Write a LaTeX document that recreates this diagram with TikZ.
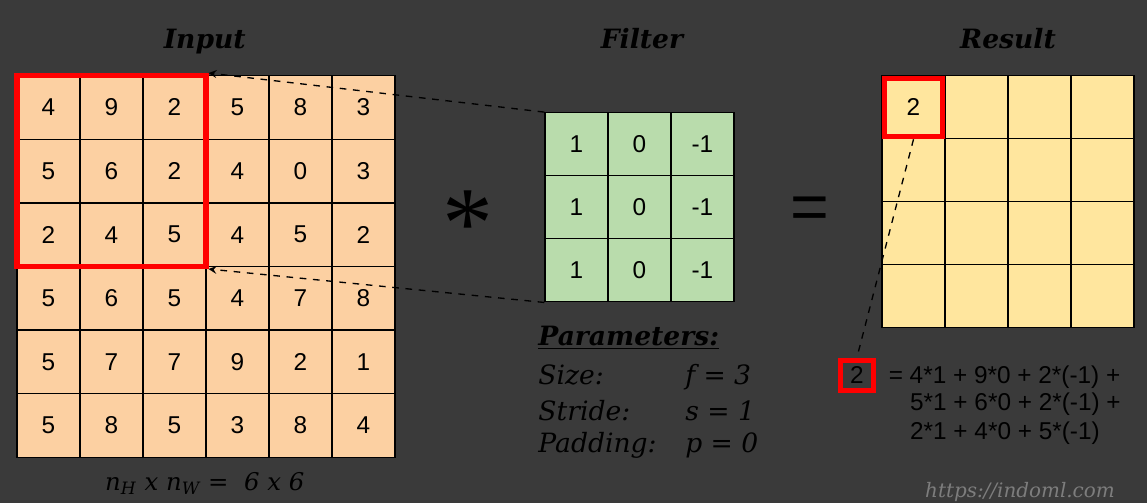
\documentclass[tikz,border=0pt]{standalone}
\usepackage{fontspec}
\setmainfont{DejaVu Serif}
\setsansfont{Liberation Sans}
\newfontfamily\starfont{Liberation Serif}
\usepackage{tikz}
\usetikzlibrary{arrows,positioning}
\definecolor{cnnbg}{RGB}{58,58,58}
\definecolor{cnnpeach}{RGB}{252,208,162}
\definecolor{cnngreen}{RGB}{185,220,172}
\definecolor{cnnyellow}{RGB}{255,230,158}
\definecolor{cnnred}{RGB}{255,0,0}
\definecolor{cnngray}{RGB}{125,125,125}
\tikzstyle{cell} = [rectangle, minimum size=1cm, inner sep=0pt, draw=black, line width=0.6pt, text=black, font=\sffamily\fontsize{11}{13}\selectfont]
\tikzstyle{window} = [rectangle, draw=cnnred, line width=2.3pt, inner sep=0pt]
\tikzstyle{title} = [anchor=base, text=black, font=\bfseries\itshape\fontsize{12}{14}\selectfont]
\tikzstyle{param} = [anchor=base west, inner sep=0pt, text=black, font=\itshape\fontsize{12}{14}\selectfont]
\tikzstyle{sumline} = [anchor=base west, inner sep=0pt, text=black, font=\sffamily\fontsize{11}{13}\selectfont]
\tikzstyle{link} = [->, >=stealth, dashed, line width=0.6pt, black]

\begin{document}
\begin{tikzpicture}
\fill[cnnbg] (0,0) rectangle (18.206,-7.984);
\useasboundingbox (0,0) rectangle (18.206,-7.984);

% Titles
\node (tin) [title] at (3.25,-0.77) {Input};
\node (tfil) [title] at (10.19,-0.77) {Filter};
\node (tres) [title] at (16.0,-0.77) {Result};

% Input 6x6
\foreach \r/\vals in {1/{4,9,2,5,8,3}, 2/{5,6,2,4,0,3}, 3/{2,4,5,4,5,2}, 4/{5,6,5,4,7,8}, 5/{5,7,7,9,2,1}, 6/{5,8,5,3,8,4}}
  \foreach \v [count=\c] in \vals
    \node (in-\r-\c) [cell, fill=cnnpeach, minimum height=1.01cm] at ({0.27+\c-0.5},{-1.2-1.01*(\r-0.5)}) {\v};

% Filter 3x3
\foreach \r in {1,2,3}
  \foreach \v [count=\c] in {1,0,-1}
    \node (fil-\r-\c) [cell, fill=cnngreen] at ({8.65+\c-0.5},{-1.79-\r+0.5}) {\v};

% Result 4x4
\foreach \r in {1,...,4}
  \foreach \c in {1,...,4}
    \node (res-\r-\c) [cell, fill=cnnyellow] at ({14.0+\c-0.5},{-1.2-\r+0.5}) {};
\node at (res-1-1) [text=black, font=\sffamily\fontsize{11}{13}\selectfont] {2};

% Windows
\node (window) [window, minimum width=3cm, minimum height=3.03cm] at (in-2-2) {};
\node (pick) [window, minimum size=0.92cm] at (res-1-1) {};

% Operators
\node (star) [text=black, font=\starfont\fontsize{46}{46}\selectfont] at (7.43,-3.55) {*};
\node (equal) [text=black, font=\sffamily\fontsize{30}{30}\selectfont] at (12.86,-3.38) {=};

% Parameters
\node (ptitle) [param, font=\bfseries\itshape\fontsize{12}{14}\selectfont] at (8.54,-5.48) {\underline{Parameters:}};
\node (psize) [param] at (8.54,-6.11) {Size:};
\node (pstride) [param] at (8.54,-6.67) {Stride:};
\node (ppad) [param] at (8.54,-7.19) {Padding:};
\node (vsize) [param] at (10.87,-6.11) {f = 3};
\node (vstride) [param] at (10.87,-6.67) {s = 1};
\node (vpad) [param] at (10.87,-7.19) {p = 0};

% Computation
\node (out) [window, minimum width=0.52cm, minimum height=0.48cm, text=black, font=\sffamily\fontsize{11}{13}\selectfont] at (13.6,-5.96) {2};
\node (suma) [sumline] at (14.1,-6.08) {= 4*1 + 9*0 + 2*(-1) +};
\node (sumb) [sumline] at (14.44,-6.51) {5*1 + 6*0 + 2*(-1) +};
\node (sumc) [sumline] at (14.44,-6.98) {2*1 + 4*0 + 5*(-1)};

% Sizes and source
\node (dims) [anchor=base, text=black, font=\itshape\fontsize{11}{13}\selectfont] at (3.25,-7.78) {n\textsubscript{H} x n\textsubscript{W} = \ 6 x 6};
\node (src) [anchor=base, text=cnngray, font=\itshape\fontsize{9}{11}\selectfont] at (16.19,-7.9) {https://indoml.com};

% Connections
\draw[link] (fil-1-1.north west) -- (window.north east);
\draw[link] (fil-3-1.south west) -- (window.south east);
\draw[dashed, line width=0.6pt, black] (res-1-1.south) -- (out.north);
\end{tikzpicture}
\end{document}
